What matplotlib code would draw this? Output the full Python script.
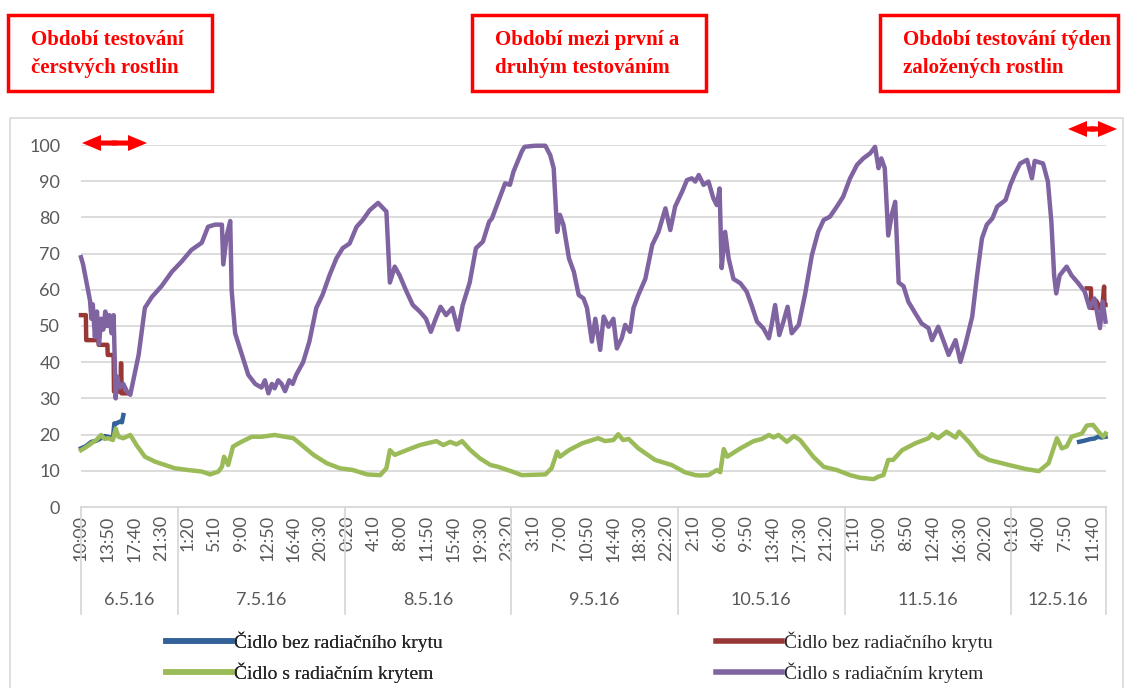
import matplotlib.pyplot as plt
import matplotlib.transforms as mtransforms
from matplotlib.patches import Rectangle, FancyArrow

W, H = 1124, 688

# x = hodiny od 6.5.16 10:00 (mereni po 10 min, zde)
blue_start_h = [0, 0.7, 1.5, 2.2, 2.9, 3.4, 3.9, 4.6, 4.8, 5.1, 5.6, 5.9, 6.1]
blue_start_v = [16.2, 16.8, 18.0, 18.3, 19.0, 19.6, 19.4, 19.0, 23.1, 23.1, 23.6, 23.4, 25.4]
blue_end_h = [143.8, 144.5, 145.5, 146.0, 146.5, 147.0, 147.6]
blue_end_v = [18.0, 18.3, 18.8, 18.9, 19.4, 19.2, 19.4]

red_start_h = [0, 0.7, 0.75, 2.5, 2.55, 3.8, 3.85, 4.7, 4.75, 5.7, 5.75, 5.8, 5.85, 6.8]
red_start_v = [53.0, 53.0, 46.1, 46.1, 44.8, 44.8, 42.0, 42.0, 31.9, 31.9, 39.7, 39.7, 31.4, 31.4]
red_end_h = [144.9, 145.5, 145.55, 146.2, 146.25, 147.0, 147.1, 147.4, 147.45, 147.6]
red_end_v = [60.4, 60.4, 55.0, 55.0, 57.0, 54.4, 54.4, 60.9, 55.8, 55.8]

green_h = [0, 0.7, 1.5, 2.2, 2.9, 3.4, 3.9, 4.6, 5.0, 5.4, 6.1, 7.1, 8.0, 9.2, 10.7,
           12.1, 13.5, 15.5, 17.4, 18.6, 19.8, 20.3, 20.6, 21.2, 21.9, 23.1, 24.6, 26.0,
           27.9, 29.4, 30.6, 31.5, 33.5, 35.4, 37.3, 39.2, 41.2, 43.1, 44.0, 44.5, 45.2,
           46.9, 48.8, 51.2, 52.2, 53.2, 54.1, 54.9, 56.1, 57.5, 59.0, 60.1, 62.1, 63.5,
           66.9, 67.8, 68.6, 69.0, 70.3, 72.2, 74.5, 75.5, 76.7, 77.4, 78.1, 78.9, 80.3,
           82.7, 85.1, 87.0, 88.5, 89.2, 90.4, 91.6, 92.1, 92.6, 93.1, 95.0, 96.9, 98.1,
           99.1, 99.8, 100.5, 101.7, 102.7, 103.6, 105.5, 107.0, 108.9, 110.8, 112.2,
           114.2, 114.9, 115.6, 116.3, 117.0, 118.3, 120.2, 122.1, 122.6, 123.5, 124.7,
           126.0, 126.5, 127.9, 129.4, 130.8, 133.7, 136.1, 138.0, 139.4, 140.6, 141.3,
           142.0, 142.7, 144.2, 144.9, 145.8, 146.8, 147.3, 147.6]
green_v = [15.7, 16.5, 17.6, 18.5, 19.9, 18.8, 19.0, 18.5, 21.7, 19.4, 19.0, 19.9, 17.1,
           13.9, 12.5, 11.6, 10.7, 10.2, 9.8, 9.0, 9.8, 11.1, 13.9, 11.6, 16.7, 18.0,
           19.4, 19.4, 19.9, 19.4, 19.0, 17.6, 14.4, 12.1, 10.7, 10.2, 9.0, 8.8, 10.7,
           15.7, 14.4, 15.7, 17.1, 18.2, 17.1, 18.0, 17.3, 18.2, 15.7, 13.4, 11.6, 11.1,
           9.8, 8.8, 9.0, 10.7, 15.3, 13.9, 15.7, 17.6, 19.0, 18.2, 18.5, 20.1, 18.5,
           18.8, 16.2, 13.0, 11.6, 9.6, 8.8, 8.7, 8.8, 10.2, 9.6, 16.0, 13.9, 16.2, 18.2,
           18.8, 19.9, 19.2, 19.9, 18.0, 19.6, 18.5, 13.9, 11.1, 10.2, 8.8, 8.1, 7.7, 8.4,
           8.8, 13.0, 13.0, 15.7, 17.6, 19.0, 20.1, 19.0, 20.8, 19.2, 20.8, 18.0, 14.4,
           13.0, 11.6, 10.5, 9.9, 12.1, 19.0, 16.2, 16.7, 19.4, 20.3, 22.5, 22.7, 20.3,
           19.4, 20.3]

purple_h = [0, 0.3, 0.7, 1.0, 1.3, 1.5, 1.7, 2.0, 2.3, 2.6, 2.9, 3.2, 3.5, 3.8, 4.1, 4.4,
            4.7, 5.0, 5.2, 5.6, 6.1, 6.6, 7.1, 8.3, 9.2, 10.2, 11.6, 13.1, 14.5, 15.9,
            17.4, 18.3, 19.3, 20.3, 20.5, 21.0, 21.5, 21.7, 22.2, 23.2, 24.1, 25.1, 26.0,
            26.5, 27.0, 27.5, 27.9, 28.4, 28.9, 29.4, 30.0, 30.5, 31.0, 32.0, 32.9, 33.9,
            34.8, 35.8, 36.8, 37.7, 38.7, 39.7, 40.6, 41.6, 42.8, 44.0, 44.5, 45.2, 45.9,
            46.9, 47.8, 48.8, 49.7, 50.4, 51.1, 51.8, 52.6, 53.5, 54.3, 55.0, 56.0, 56.9,
            57.9, 58.8, 59.2, 60.1, 61.1, 61.8, 62.3, 63.0, 63.5, 63.9, 65.4, 66.9, 67.6,
            68.1, 68.6, 69.0, 69.5, 70.3, 71.0, 71.7, 72.4, 72.9, 73.6, 74.1, 74.8, 75.3,
            76.0, 76.7, 77.2, 77.9, 78.4, 79.1, 79.6, 80.3, 81.3, 82.3, 83.2, 84.2, 84.9,
            85.6, 86.6, 87.3, 88.0, 88.5, 89.0, 89.7, 90.4, 91.1, 91.6, 92.0, 92.3, 92.8,
            93.3, 94.0, 95.0, 95.9, 96.6, 97.4, 98.3, 99.1, 99.5, 100.0, 100.6, 101.2,
            101.8, 102.4, 103.4, 104.3, 105.3, 106.2, 107.0, 107.9, 108.9, 109.8, 110.8,
            111.8, 112.7, 113.7, 114.4, 114.9, 115.3, 115.8, 116.3, 116.8, 117.3, 117.8,
            118.5, 119.2, 120.2, 121.1, 122.1, 122.6, 123.5, 124.3, 125.0, 126.0, 126.7,
            127.4, 128.4, 129.1, 129.8, 130.5, 131.3, 132.0, 133.2, 133.9, 134.6, 135.3,
            136.3, 137.0, 137.4, 138.6, 139.3, 139.8, 140.2, 140.5, 141.0, 142.0, 142.7,
            143.6, 144.6, 145.3, 146.0, 146.8, 147.2, 147.6]
purple_v = [69.0, 67.0, 63.0, 60.0, 57.0, 52.0, 56.0, 47.0, 54.0, 45.0, 52.0, 49.0, 54.0,
            50.0, 53.0, 48.0, 53.0, 30.0, 36.0, 33.0, 34.0, 32.0, 31.0, 42.0, 55.0, 58.0,
            61.0, 65.0, 67.8, 71.0, 73.0, 77.4, 78.0, 78.0, 67.0, 75.0, 79.0, 60.0, 48.0,
            42.0, 36.5, 34.0, 33.0, 35.0, 31.4, 34.0, 32.8, 35.0, 34.0, 32.0, 35.0, 34.0,
            36.5, 40.0, 45.7, 55.0, 58.6, 64.0, 68.7, 71.5, 72.8, 77.4, 79.3, 82.0, 84.0,
            81.6, 62.0, 66.4, 64.0, 59.5, 55.8, 54.0, 52.0, 48.4, 52.0, 55.3, 53.0, 55.0,
            49.0, 55.8, 62.0, 71.5, 73.3, 78.8, 79.7, 84.3, 89.4, 89.0, 92.6, 95.9, 98.2,
            99.5, 99.8, 99.8, 97.2, 93.6, 76.0, 80.7, 78.0, 68.7, 65.0, 58.6, 57.6, 55.0,
            45.7, 52.0, 43.4, 52.6, 49.8, 52.0, 43.8, 46.6, 50.3, 48.4, 55.0, 58.6, 63.0,
            72.4, 76.0, 82.5, 76.5, 83.0, 87.1, 90.3, 90.8, 89.9, 91.7, 89.0, 89.9, 85.3,
            83.4, 88.0, 66.0, 76.0, 68.7, 63.0, 61.8, 59.5, 55.8, 51.2, 49.4, 46.6, 50.3,
            55.8, 47.5, 51.2, 55.3, 48.0, 50.3, 58.6, 69.6, 76.0, 79.3, 80.2, 83.0, 85.7,
            90.8, 94.5, 96.3, 97.7, 99.5, 93.6, 96.3, 93.6, 75.0, 80.7, 84.3, 62.0, 61.0,
            56.7, 53.5, 50.7, 49.4, 46.1, 49.8, 45.7, 42.0, 46.1, 40.1, 44.8, 52.6, 64.0,
            74.2, 78.0, 79.7, 83.0, 84.8, 89.0, 92.2, 94.9, 95.9, 90.8, 95.6, 94.9, 89.9,
            78.8, 64.0, 59.0, 64.0, 66.4, 64.0, 62.0, 59.5, 55.0, 57.6, 49.4, 56.7, 51.2]

time_labels = ['10:00', '13:50', '17:40', '21:30',
               '1:20', '5:10', '9:00', '12:50', '16:40', '20:30',
               '0:20', '4:10', '8:00', '11:50', '15:40', '19:30', '23:20',
               '3:10', '7:00', '10:50', '14:40', '18:30', '22:20',
               '2:10', '6:00', '9:50', '13:40', '17:30', '21:20',
               '1:10', '5:00', '8:50', '12:40', '16:30', '20:20',
               '0:10', '4:00', '7:50', '11:40']
tick_step_h = 230 / 60
day_labels = ['6.5.16', '7.5.16', '8.5.16', '9.5.16', '10.5.16', '11.5.16', '12.5.16']
day_edges = [0, 14, 38, 62, 86, 110, 134, 147.6]

legend_labels = ['Čidlo bez radiačního krytu', 'Čidlo s radiačním krytem']
box_texts = ['Období testování\nčerstvých rostlin',
             'Období mezi první a\ndruhým testováním',
             'Období testování týden\nzaložených rostlin']

c_blue = '#33619a'
c_red = '#973836'
c_green = '#9bbb59'
c_purple = '#8064a2'
c_text = '#595959'
c_grid = '#d9d9d9'


def fx(x):
    return x / W


def fy(y):
    return 1 - y / H


fig = plt.figure(figsize=(W / 100, H / 100), dpi=100)

# sedy ramecek grafu
fig.add_artist(Rectangle((fx(10), fy(700)), fx(1113), 582 / H, transform=fig.transFigure,
                         fill=False, edgecolor=c_grid, lw=1.2))

ax = fig.add_axes([fx(81), fy(507), (1105.5 - 81) / W, 362 / H])
lw = 3.2
ax.plot(blue_start_h, blue_start_v, color=c_blue, lw=lw, zorder=3, clip_on=False)
ax.plot(blue_end_h, blue_end_v, color=c_blue, lw=lw, zorder=3, clip_on=False)
ax.plot(red_start_h, red_start_v, color=c_red, lw=lw, zorder=4, clip_on=False)
ax.plot(red_end_h, red_end_v, color=c_red, lw=lw, zorder=4, clip_on=False)
ax.plot(green_h, green_v, color=c_green, lw=lw, zorder=5, clip_on=False)
ax.plot(purple_h, purple_v, color=c_purple, lw=lw, zorder=6, clip_on=False)

ax.set_xlim(0, day_edges[-1])
ax.set_ylim(0, 100)
ax.set_yticks(range(0, 101, 10))
ax.grid(axis='y', color=c_grid, lw=1.3)
ax.set_axisbelow(True)
for s in ['left', 'right', 'top']:
    ax.spines[s].set_visible(False)
ax.spines['bottom'].set_color(c_grid)
ax.spines['bottom'].set_linewidth(1.3)
ax.tick_params(axis='y', length=0, pad=15, labelsize=13, labelcolor=c_text)
ax.set_xticks([i * tick_step_h for i in range(len(time_labels))])
ax.set_xticklabels(time_labels, rotation=90)
ax.tick_params(axis='x', length=0, pad=6, labelsize=13, labelcolor=c_text)
for lab in ax.get_xticklabels() + ax.get_yticklabels():
    lab.set_family('Lato')

# dny pod osou
trans = mtransforms.blended_transform_factory(ax.transData, ax.transAxes)
for e in day_edges:
    ax.plot([e, e], [0, -107 / 362], transform=trans, color=c_grid, lw=1.3, clip_on=False)
for i, d in enumerate(day_labels):
    ax.text((day_edges[i] + day_edges[i + 1]) / 2, -93 / 362, d, transform=trans,
            ha='center', va='center', fontsize=13, color=c_text, family='Lato')

# legenda
h_b, = ax.plot([], [], color=c_blue, lw=4)
h_r, = ax.plot([], [], color=c_red, lw=4)
h_g, = ax.plot([], [], color=c_green, lw=4)
h_p, = ax.plot([], [], color=c_purple, lw=4)
leg_kw = dict(frameon=False, loc='center left', handlelength=3.4, handletextpad=0.1,
              labelspacing=0.55, borderpad=0, borderaxespad=0,
              prop={'family': 'Liberation Serif', 'size': 14})
leg1 = fig.legend([h_b, h_g], legend_labels, bbox_to_anchor=(fx(166), fy(657)), **leg_kw)
leg2 = fig.legend([h_r, h_p], legend_labels, bbox_to_anchor=(fx(716), fy(657)), **leg_kw)
for leg in (leg1, leg2):
    for t in leg.get_texts():
        t.set_color('#262626')
fig.add_artist(leg1)

# cervene ramecky nahore
boxes = [(8, 212), (472, 706), (880, 1118)]
for (x0, x1), t in zip(boxes, box_texts):
    fig.add_artist(Rectangle((fx(x0), fy(91)), fx(x1 - x0), 76 / H, transform=fig.transFigure,
                             fill=False, edgecolor='red', lw=2.5))
    fig.text(fx(x0 + 23), fy(54), t, ha='left', va='center', color='red', fontsize=15,
             fontweight='bold', family='Liberation Serif', linespacing=1.5)

# sipky (v pixelech, dve poloviny od stredu ven, s prekryvem)
pix = mtransforms.IdentityTransform()
for xa, xb, y in [(82, 147, 143), (1068, 1117, 129)]:
    xm = (xa + xb) / 2
    for tip, off in ((xa, 3), (xb, -3)):
        fig.add_artist(FancyArrow(xm + off, H - y, tip - xm - off, 0, width=5, head_width=16,
                                  head_length=19, length_includes_head=True,
                                  color='red', lw=0, transform=pix))

fig.savefig('out.png', dpi=100)
